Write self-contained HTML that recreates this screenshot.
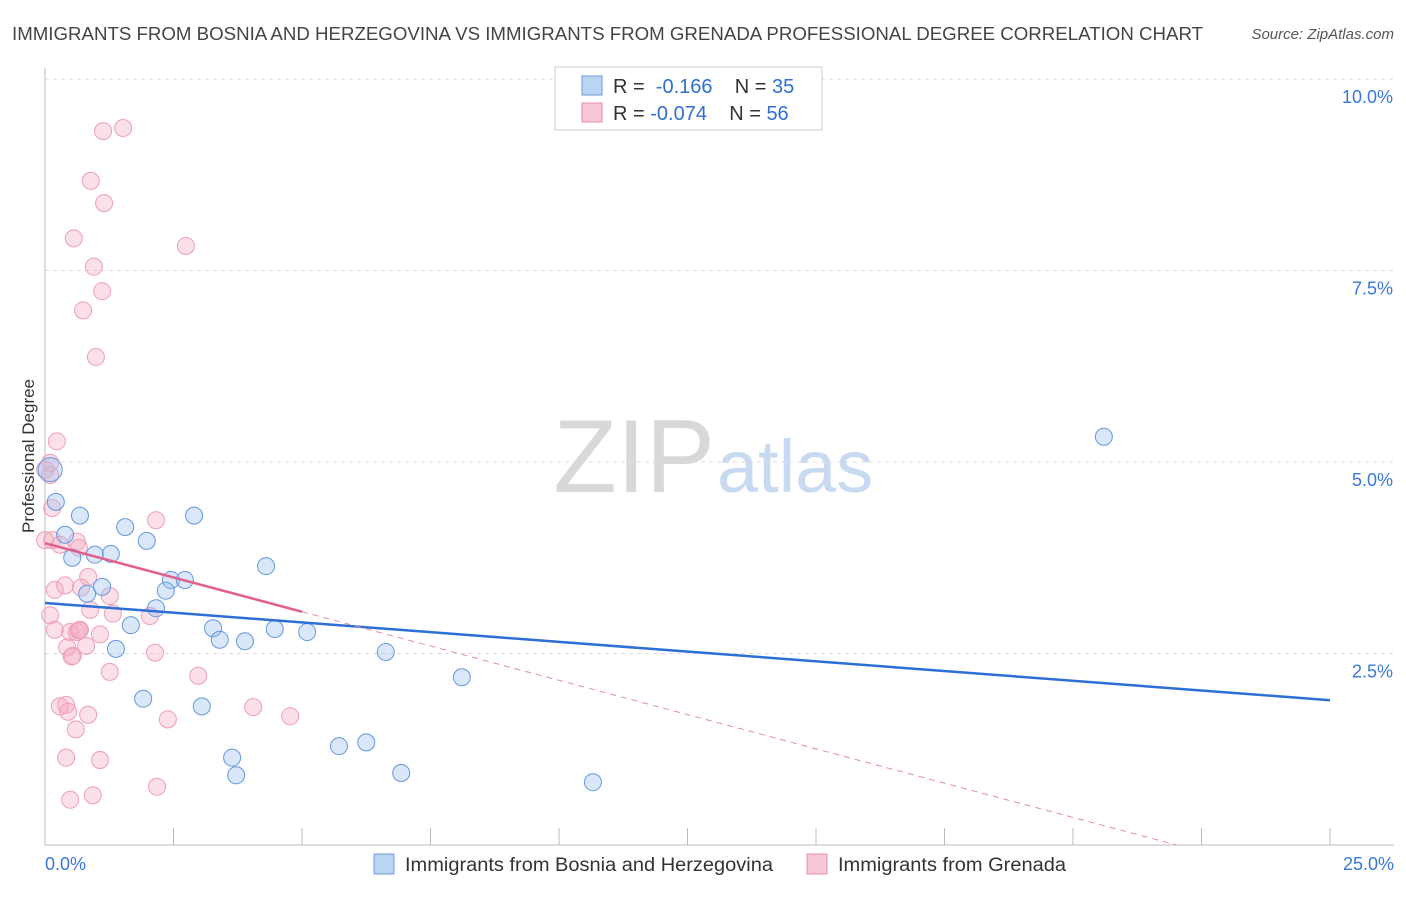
<!DOCTYPE html>
<html><head><meta charset="utf-8"><style>
body{margin:0;background:#fff;font-family:"Liberation Sans",sans-serif;}
svg text{font-family:"Liberation Sans",sans-serif;}
</style></head><body>
<svg id="c" width="1406" height="892" xmlns="http://www.w3.org/2000/svg">
<text x="12" y="40" font-size="18.5" fill="#444" textLength="1191" lengthAdjust="spacingAndGlyphs">IMMIGRANTS FROM BOSNIA AND HERZEGOVINA VS IMMIGRANTS FROM GRENADA PROFESSIONAL DEGREE CORRELATION CHART</text>
<text x="1394" y="39" font-size="15" fill="#555" font-style="italic" text-anchor="end">Source: ZipAtlas.com</text>
<text x="715" y="492" font-size="104" fill="#d8d8d8" text-anchor="end" font-family="Liberation Serif">ZIP</text>
<text x="717" y="492" font-size="74" fill="#c8daf2">atlas</text>
<text x="34" y="456" font-size="17" fill="#333" text-anchor="middle" transform="rotate(-90 34 456)">Professional Degree</text>
<g id="grid"></g><g id="axes"></g><g id="pts"></g><g id="trend"></g>
<g>
<rect x="555" y="67" width="267" height="63" fill="#fff" stroke="#ccc"/>
<rect x="582" y="76" width="20" height="19" fill="#bcd4f4" stroke="#6b9ad8"/>
<text x="613" y="93" font-size="20" fill="#333">R = <tspan fill="#2f6fd0">&#160;-0.166</tspan>&#160;&#160;&#160;&#160;N = <tspan fill="#2f6fd0">35</tspan></text>
<rect x="582" y="103" width="20" height="19" fill="#f9c8d6" stroke="#e78aa8"/>
<text x="613" y="120" font-size="20" fill="#333">R = <tspan fill="#2f6fd0">-0.074</tspan>&#160;&#160;&#160;&#160;N = <tspan fill="#2f6fd0">56</tspan></text>
</g>
<g>
<rect x="374" y="854" width="20" height="20" fill="#bcd4f4" stroke="#6b9ad8"/>
<text x="405" y="871" font-size="19" fill="#333" textLength="368" lengthAdjust="spacingAndGlyphs">Immigrants from Bosnia and Herzegovina</text>
<rect x="807" y="854" width="20" height="20" fill="#f9c8d6" stroke="#e78aa8"/>
<text x="838" y="871" font-size="19" fill="#333" textLength="228" lengthAdjust="spacingAndGlyphs">Immigrants from Grenada</text>
</g>
</svg>
<script>
const xTicks=[0,2.5,5,7.5,10,12.5,15,17.5,20,22.5,25];
const yTicks=[2.5,5.0,7.5,10.0];
const yTickLabels=["2.5%","5.0%","7.5%","10.0%"];
const blueX=[20.60,0.10,0.21,0.68,0.39,1.56,1.98,2.90,0.53,0.97,1.28,4.30,2.45,2.72,2.35,0.82,1.11,2.16,1.67,3.27,3.40,3.89,4.47,5.10,1.38,6.63,8.11,1.91,3.05,5.72,6.25,3.64,3.72,6.93,10.66];
const blueY=[5.33,4.90,4.48,4.30,4.05,4.15,3.97,4.30,3.75,3.79,3.80,3.64,3.46,3.46,3.32,3.28,3.37,3.09,2.87,2.83,2.68,2.66,2.82,2.78,2.56,2.52,2.19,1.91,1.81,1.29,1.34,1.14,0.91,0.94,0.82];
const pinkX=[1.52,1.13,0.89,1.15,0.56,2.74,0.95,1.11,0.74,0.99,0.23,0.10,0,0.10,0.14,0.14,0,0.29,0.62,0.66,0.39,0.84,0.19,1.26,0.70,2.16,0.10,0.88,2.04,0.19,0.49,0.62,0.68,1.07,0.43,0.80,0.54,1.26,2.14,2.98,1.32,0.29,0.41,0.45,0.84,0.60,4.05,4.77,2.39,0.41,1.07,0.49,0.93,2.18,0.52,0.66];
const pinkY=[9.36,9.32,8.67,8.38,7.92,7.82,7.55,7.23,6.98,6.37,5.27,4.99,4.90,4.83,4.40,3.98,3.98,3.92,3.96,3.88,3.39,3.50,3.33,3.25,3.36,4.24,3.00,3.07,2.99,2.81,2.78,2.78,2.81,2.75,2.58,2.60,2.47,2.26,2.51,2.21,3.02,1.81,1.83,1.74,1.70,1.51,1.80,1.68,1.64,1.14,1.11,0.59,0.65,0.76,2.46,2.80];
const blueTrend=[3.16,1.89];
const pinkTrend=[3.94,-0.179];
const NS="http://www.w3.org/2000/svg";
const X=v=>45+v/25*1285, Y=v=>845-v/10*766;
function mk(p,t,a){const e=document.createElementNS(NS,t);for(const k in a)e.setAttribute(k,a[k]);document.getElementById(p).appendChild(e);return e;}
let e=mk('axes','line',{x1:45,y1:68,x2:45,y2:845,stroke:'#bbb'});


e=mk('axes','line',{x1:45,y1:845,x2:1394,y2:845,stroke:'#bbb'});


xTicks.forEach(t=>{const el=mk('axes','line',{x1:X(t),y1:828,x2:X(t),y2:845,stroke:'#bbb'});

});
e=mk('axes','text',{x:45,y:870,'font-size':18,fill:'#3a78d8'});e.textContent='0.0%';


e=mk('axes','text',{x:1394,y:870,'font-size':18,fill:'#3a78d8','text-anchor':'end'});e.textContent='25.0%';


yTicks.forEach((t,i)=>{const g=mk('grid','line',{x1:45,y1:Y(t),x2:1394,y2:Y(t),stroke:'#ddd','stroke-dasharray':'4,4'});


const l=mk('axes','text',{x:1393,y:Y(t)+24,'font-size':18,fill:'#3a78d8','text-anchor':'end'});l.textContent=yTickLabels[i];

});
pinkX.forEach((x,i)=>{const c=mk('pts','circle',{cx:X(x),cy:Y(pinkY[i]),r:8.5,fill:'rgba(244,166,190,0.35)',stroke:'#ee9fb8','stroke-width':1});

});
blueX.forEach((x,i)=>{const c=mk('pts','circle',{cx:X(x),cy:Y(blueY[i]),r:i==1?12:8.5,fill:'rgba(160,196,240,0.4)',stroke:'#6598de','stroke-width':1});

});
e=mk('trend','line',{x1:X(0),y1:Y(blueTrend[0]),x2:X(25),y2:Y(blueTrend[1]),stroke:'#2e6fd6','stroke-width':2.5});


e=mk('trend','line',{x1:X(0),y1:Y(pinkTrend[0]),x2:X(5),y2:Y(pinkTrend[0]+pinkTrend[1]*5),stroke:'#e2608e','stroke-width':2.5});


const xe=-pinkTrend[0]/pinkTrend[1];
e=mk('trend','line',{x1:X(5),y1:Y(pinkTrend[0]+pinkTrend[1]*5),x2:X(xe),y2:Y(0),stroke:'#e88aa8','stroke-width':1,'stroke-dasharray':'6,5'});


</script>
</body></html>
